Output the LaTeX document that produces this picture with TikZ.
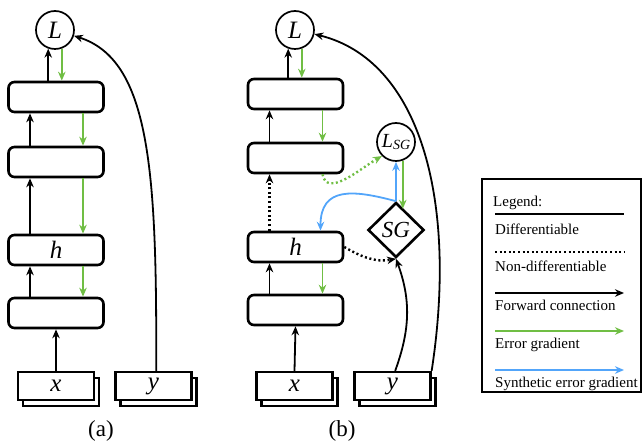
\documentclass[tikz,border=0pt]{standalone}
\usepackage{fontspec}
\setmainfont{Liberation Serif}
\usetikzlibrary{arrows.meta,shapes.geometric}
\definecolor{errgreen}{RGB}{112,190,68}
\definecolor{sgblue}{RGB}{82,165,250}

\begin{document}
\begin{tikzpicture}[x=1pt,y=-1pt,
    layer/.style ={rectangle, draw, line width=2.6pt, rounded corners=6pt, fill=white, minimum width=95pt, minimum height=30pt, inner sep=0pt, font=\fontsize{25}{25}\selectfont\itshape},
    datain/.style ={rectangle, draw, line width=2.3pt, fill=white, minimum width=76pt, minimum height=28pt, inner sep=0pt, font=\fontsize{25}{25}\selectfont\itshape},
    loss/.style ={circle, draw, line width=1.7pt, fill=white, minimum size=38pt, inner sep=0pt, font=\fontsize{25}{25}\selectfont\itshape},
    synthgrad/.style ={diamond, draw, line width=2.6pt, fill=white, minimum width=56pt, minimum height=55pt, inner sep=0pt, font=\fontsize{23}{23}\selectfont\itshape},
    fwd/.style ={line width=1.8pt, -{Stealth[length=9pt,width=7.5pt]}},
    grad/.style ={errgreen, line width=1.8pt, -{Stealth[length=9pt,width=7.5pt]}},
    sgrad/.style ={sgblue, line width=1.8pt, -{Stealth[length=9pt,width=7.5pt]}},
    nodiff/.style ={line width=2.4pt, dash pattern=on 2pt off 2.6pt},
    legtext/.style ={anchor=base west, inner sep=0pt, font=\fontsize{15}{15}\selectfont}]
   \useasboundingbox (0,0) rectangle (643,443);
   \node[loss] (La) at (55,30) {L};
   \node[layer] (a1) at (56,97) {};
   \node[layer] (a2) at (56,162) {};
   \node[layer] (ah) at (56,250) {h};
   \node[layer] (a4) at (56,313) {};
   \node[datain] (xa2) at (61,392) {};
   \node[datain] (xa) at (56,386) {x};
   \node[datain] (ya2) at (158.5,392) {};
   \node[datain] (ya) at (153.5,386) {y};
   \node[font=\fontsize{23}{23}\selectfont] (capa) at (101,431) {(a)};
   \draw[fwd] (a1.north -| La.-110) -- (La.-110);
   \draw[grad] (La.-70) -- (a1.north -| La.-70);
   \draw[fwd] ([xshift=-26pt]a2.north) -- ([xshift=-26pt]a1.south);
   \draw[grad] ([xshift=27pt]a1.south) -- ([xshift=27pt]a2.north);
   \draw[fwd] ([xshift=-26pt]ah.north) -- ([xshift=-26pt]a2.south);
   \draw[grad] ([xshift=27pt]a2.south) -- ([xshift=27pt]ah.north);
   \draw[fwd] ([xshift=-26pt]a4.north) -- ([xshift=-26pt]ah.south);
   \draw[grad] ([xshift=27pt]ah.south) -- ([xshift=27pt]a4.north);
   \draw[fwd] (xa.north) -- (a4.south);
   \draw[fwd] (ya.80) .. controls (157,170) and (150,60) .. (La.-17);
   \node[loss] (Lb) at (295,30) {L};
   \node[layer] (b1) at (295.5,94) {};
   \node[layer] (b2) at (295.5,158) {};
   \node[layer] (bh) at (295.5,247) {h};
   \node[layer] (b4) at (295.5,310) {};
   \node[datain] (xb2) at (299.5,392) {};
   \node[datain] (xb) at (294.5,386) {x};
   \node[datain] (yb2) at (397.5,392) {};
   \node[datain] (yb) at (392.5,386) {y};
   \node[loss] (LSG) at (396,142) {{\fontsize{20}{20}\selectfont L}{\fontsize{14}{14}\selectfont\raisebox{-2.5pt}{SG}}};
   \node[synthgrad] (SG) at (396,230) {SG};
   \node[font=\fontsize{23}{23}\selectfont] (capb) at (342,431) {(b)};
   \draw[fwd] (b1.north -| Lb.-110) -- (Lb.-110);
   \draw[grad] (Lb.-70) -- (b1.north -| Lb.-70);
   \draw[fwd] ([xshift=-26pt]b2.north) -- ([xshift=-26pt]b1.south);
   \draw[grad] ([xshift=27pt]b1.south) -- ([xshift=27pt]b2.north);
   \draw[fwd, nodiff] ([xshift=-26pt]bh.north) -- ([xshift=-26pt]b2.south);
   \draw[grad, nodiff] ([xshift=27pt]b2.south) to[out=-80, in=210] (LSG.-135);
   \draw[fwd] ([xshift=-26pt]b4.north) -- ([xshift=-26pt]bh.south);
   \draw[grad] ([xshift=27pt]bh.south) -- ([xshift=27pt]b4.north);
   \draw[fwd] (xb.north) -- (b4.south);
   \draw[sgrad] (SG.north) -- (LSG.south);
   \draw[grad] (LSG.-70) -- (LSG.-70 |- SG.70);
   \draw[sgrad] (SG.north) to[out=165, in=90, looseness=1.4] ([xshift=25pt]bh.north);
   \draw[fwd, nodiff] (bh.east) to[out=-30, in=190] (SG.south);
   \draw[fwd] (yb.80) to[out=70, in=-70] (SG.south);
   \draw[fwd] (yb.north east) .. controls (458,200) and (420,60) .. (Lb.-12);
   \node[draw, line width=2pt, minimum width=159pt, minimum height=213pt, inner sep=0pt] (legend) at (561.5,285.5) {};
   \node[legtext] (legtitle) at (493,207) {Legend:};
   \draw[line width=2.4pt] (495,214) -- (624,214);
   \node[legtext] (legdiff) at (495,235) {Differentiable};
   \draw[nodiff] (495,252) -- (624,252);
   \node[legtext] (legnodiff) at (495,272) {Non-differentiable};
   \draw[fwd, line width=2.4pt] (495,293) -- (624,293);
   \node[legtext] (legfwd) at (495,311) {Forward connection};
   \draw[grad, line width=2.4pt] (495,331) -- (624,331);
   \node[legtext] (legerr) at (495,349) {Error gradient};
   \draw[sgrad, line width=2.4pt] (495,370) -- (624,370);
   \node[legtext] (legsyn) at (495,388) {Synthetic error gradient};
 \end{tikzpicture}
\end{document}
